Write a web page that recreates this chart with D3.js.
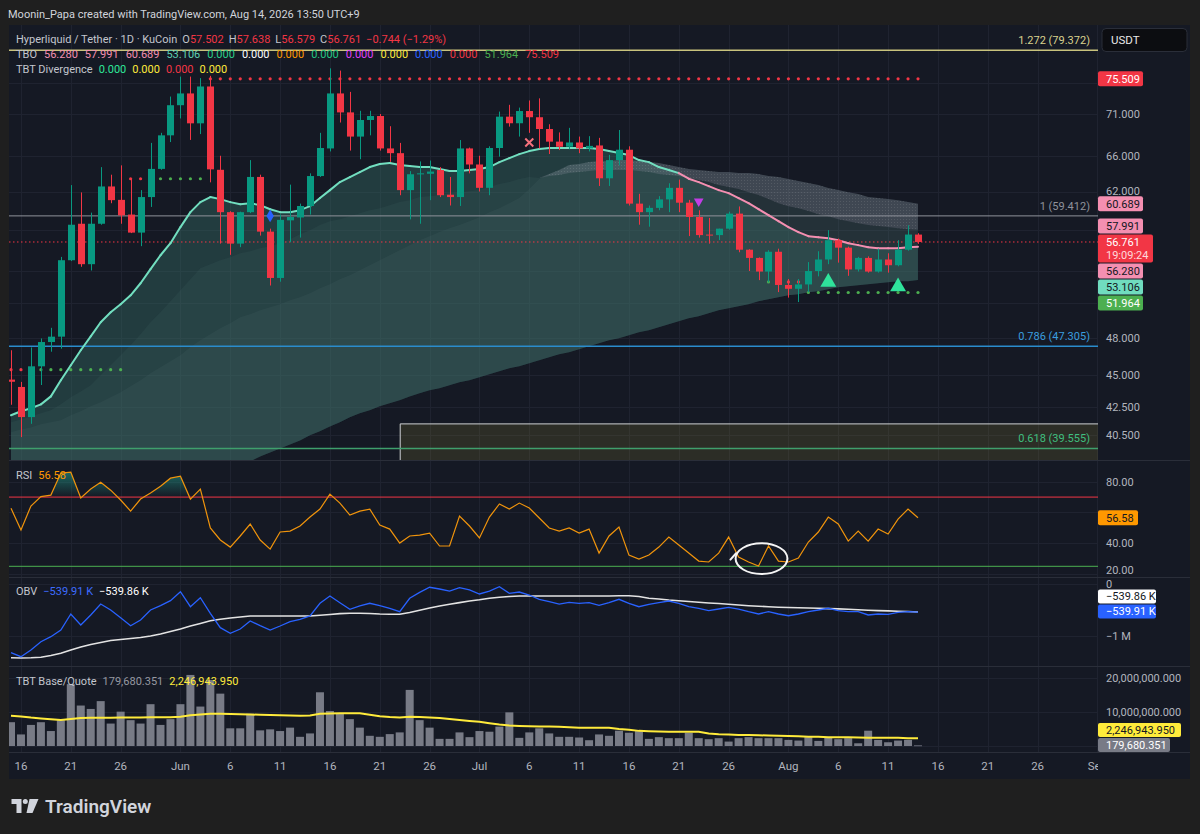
<!DOCTYPE html>
<html><head><meta charset="utf-8"><title>HYPE/USDT 1D</title>
<script src="https://cdn.jsdelivr.net/npm/d3@7/dist/d3.min.js"></script>
<style>
html,body{margin:0;padding:0;background:#1f1f1f;}
svg{display:block;}
text{font-family:Roboto,"Noto Sans","DejaVu Sans",sans-serif;}
</style></head><body>
<svg id="chart" width="1200" height="834"></svg>
<script>
// ---------------- DATA ----------------
const firstDay = "2026-05-15";
const opens = [44.62,44.05,41.79,45.67,47.65,48.10,54.98,58.60,54.60,58.60,
 62.55,61.10,59.55,57.70,61.40,64.50,68.40,72.10,73.60,69.85,
 74.50,64.40,59.80,56.60,59.80,63.60,57.80,53.30,58.95,59.25,
 60.45,63.70,66.85,73.60,71.20,68.25,70.26,70.75,66.85,66.30,
 62.15,63.90,63.95,64.37,61.65,61.40,66.85,65.00,62.40,66.90,
 70.67,69.86,71.37,70.60,69.16,67.65,67.05,67.55,66.85,67.20,
 63.45,65.50,66.70,60.70,59.80,60.25,61.15,62.40,60.80,59.30,
 57.50,57.45,58.10,59.65,56.00,55.20,53.90,55.80,52.65,52.30,
 52.70,53.95,55.05,56.94,56.20,54.10,55.20,53.90,55.05,54.50,
 56.00,57.502];
const highs = [46.97,44.44,47.20,47.95,48.85,55.30,62.70,61.90,59.75,64.70,
 63.85,64.90,63.40,62.15,67.50,68.70,73.20,75.80,75.80,75.60,
 75.90,66.00,59.90,59.85,65.50,63.85,58.10,59.55,62.75,60.70,
 64.00,68.70,76.90,76.60,73.80,71.40,71.40,71.00,69.50,67.50,
 64.25,65.35,65.45,64.70,63.60,67.84,66.95,66.00,67.10,71.30,
 72.15,71.80,72.70,72.97,69.74,68.75,69.30,68.25,68.30,68.10,
 66.10,69.04,67.10,61.75,60.50,61.50,62.90,63.30,61.10,60.00,
 59.20,58.10,59.85,60.40,56.05,55.25,55.95,56.10,53.20,53.20,
 54.80,55.85,57.95,57.10,56.30,55.30,55.35,56.10,55.65,56.94,
 58.45,57.638];
const lows = [42.70,40.35,41.30,44.20,46.85,47.10,54.90,54.35,54.00,58.50,
 60.74,58.60,57.65,56.35,60.35,64.40,67.60,70.45,67.85,68.55,
 63.00,56.60,55.50,56.25,59.70,57.40,52.60,52.95,56.75,57.20,
 59.55,63.60,66.50,69.95,66.60,65.60,68.40,66.60,65.30,61.60,
 59.05,58.60,61.07,61.40,60.50,60.45,64.00,62.00,61.60,65.90,
 69.45,68.25,68.70,66.85,66.20,66.66,66.75,66.30,66.50,62.60,
 62.60,64.90,60.50,58.50,58.30,60.00,59.80,59.80,57.35,57.20,
 56.60,56.95,58.00,55.75,53.95,53.10,52.90,52.00,51.50,51.10,
 52.00,53.45,54.60,54.75,53.50,53.90,53.80,53.80,53.80,54.40,
 55.90,56.579];
const closes = [44.45,41.79,45.67,47.65,48.10,54.98,58.50,54.60,58.60,62.55,
 61.07,59.47,57.70,61.40,64.50,68.40,72.10,73.60,69.85,74.50,
 64.45,59.80,56.60,59.80,63.60,57.80,53.30,59.00,59.30,60.45,
 63.70,66.90,73.60,71.20,68.25,70.26,70.75,66.85,66.30,62.15,
 63.90,64.00,64.20,61.60,61.40,66.85,65.00,62.40,66.90,70.67,
 69.86,71.37,70.60,69.16,67.65,67.05,67.55,66.85,67.15,63.45,
 65.50,66.70,60.70,59.80,60.25,61.15,62.40,60.80,59.30,57.45,
 57.45,58.10,59.65,56.00,55.20,53.90,55.80,52.65,52.30,52.70,
 53.95,55.05,56.94,56.20,54.10,55.20,53.90,55.05,54.50,56.00,
 57.505,56.761];

// TBO bands
const tboFast = [41.92,42.22,42.44,42.73,43.33,44.57,45.75,46.97,48.13,49.33,
 50.20,50.90,51.71,52.81,54.13,55.46,56.64,58.26,59.80,60.86,
 61.40,61.18,60.86,60.64,60.75,60.54,60.11,59.80,59.80,60.01,
 60.43,61.29,62.15,63.03,63.58,64.14,64.71,65.05,65.16,64.93,
 64.82,64.71,64.71,64.48,64.26,64.26,64.37,64.48,64.71,65.27,
 65.73,66.19,66.54,66.78,66.90,66.90,66.90,66.90,66.90,66.78,
 66.54,66.31,66.08,65.50,65.27,64.71,64.37,64.03,63.40,63.03,
 62.59,62.15,61.82,61.29,60.75,60.11,59.49,58.87,58.26,57.75,
 57.34,57.24,57.14,56.94,56.64,56.45,56.25,56.15,56.15,56.15,
 56.25,56.280];
const tboMid = [41.41,41.62,41.84,42.07,42.29,42.73,43.26,43.71,44.18,44.96,
 45.75,46.56,47.38,48.30,49.33,50.20,51.17,52.17,53.18,54.22,
 54.60,54.98,55.27,55.65,55.85,56.15,56.34,56.64,57.04,57.54,
 57.95,58.46,58.87,59.07,59.38,59.69,60.01,60.22,60.54,60.86,
 61.07,61.40,61.50,61.61,61.82,61.93,62.04,62.15,62.48,62.81,
 63.03,63.36,63.58,63.47,63.70,63.81,64.03,64.14,64.26,64.37,
 64.37,64.37,64.37,64.26,64.14,63.92,63.81,63.70,63.47,63.25,
 63.03,62.70,62.48,62.26,61.93,61.61,61.18,60.75,60.43,60.22,
 59.91,59.59,59.38,59.07,58.87,58.66,58.46,58.36,58.26,58.15,
 58.05,57.991];
const tboUpper = [40.69,40.90,41.04,41.26,41.41,41.55,41.92,42.22,42.58,42.88,
 43.26,43.64,44.10,44.57,45.11,45.59,46.07,46.56,47.22,47.80,
 48.30,48.81,49.24,49.76,50.02,50.37,50.64,50.90,51.26,51.53,
 51.89,52.35,52.72,53.18,53.56,54.03,54.50,54.98,55.46,55.95,
 56.45,56.94,57.34,57.75,58.15,58.46,58.87,59.28,59.80,60.22,
 60.75,61.29,62.26,63.36,63.92,64.37,64.93,65.05,65.27,65.38,
 65.38,65.50,65.50,65.38,65.27,65.16,64.93,64.71,64.48,64.37,
 64.26,64.14,64.14,64.03,64.03,63.92,63.70,63.58,63.36,63.14,
 62.92,62.70,62.37,62.15,61.93,61.72,61.40,61.29,61.18,61.07,
 60.86,60.689];
const tboSlow = [31.71,31.99,32.20,32.50,32.75,32.98,33.27,33.56,33.80,34.09,
 34.39,34.69,34.97,35.30,35.60,35.80,36.12,36.44,36.75,37.07,
 37.41,37.67,38.00,38.34,38.67,39.01,39.28,39.56,39.84,40.12,
 40.48,40.76,41.11,41.41,41.77,42.07,42.29,42.58,42.81,43.03,
 43.33,43.56,43.79,43.95,44.18,44.41,44.57,44.80,45.04,45.27,
 45.51,45.67,45.91,46.15,46.39,46.64,46.80,47.05,47.30,47.55,
 47.80,47.97,48.22,48.47,48.64,48.90,49.15,49.41,49.67,49.85,
 50.11,50.37,50.55,50.73,50.90,51.17,51.35,51.53,51.71,51.80,
 51.99,52.08,52.26,52.44,52.53,52.63,52.72,52.81,52.90,53.00,
 53.00,53.106];
const tboSignals = [0,0,0,0,0,0,0,0];
const divSignals = [0,0,0,0];

// support / resistance dotted levels
const levelPrices = [45.40, 45.40, 63.40, 63.40, 75.509, 52.93, 52.93, 51.964];
const levelFrom   = [0, 3, 12, 15, 20, 76, 78, 80];
const levelTo     = [1, 11, 13, 19, 91, 76, 79, 91];
const levelIsRes  = [1, 0, 1, 0, 1, 0, 1, 0];

// fibonacci levels
const fibRatios = ["1.272", "1", "0.786", "0.618"];
const fibPrices = [79.372, 59.412, 47.305, 39.555];
const zoneStartIdx = 39, zoneTop = 41.33;

// signal markers
const diamondIdx = 26, diamondPrice = 59.41;
const crossIdx = 52, crossPrice = 67.54;
const sellIdx = 69, sellPrice = 60.94;
const buyIdx = [82, 89], buyPrice = [52.90, 52.49];

// RSI
const rsi = [62.7,48.6,64.2,70.3,71.3,85.6,86.2,69.4,75.2,79.7,
 74.5,68.1,60.9,68.7,72.6,77.1,82.3,83.6,68.7,75.2,
 49.9,42.1,37.5,44.7,52.5,42.1,36.2,47.3,47.9,51.2,
 57.0,62.2,71.9,66.1,58.3,60.9,62.2,51.8,49.2,40.1,
 44.7,45.3,46.6,38.2,38.2,57.7,51.2,43.4,57.0,65.5,
 62.2,66.1,62.9,56.4,49.9,47.9,49.9,46.6,49.2,33.6,
 44.7,50.5,32.3,29.7,32.3,37.5,44.0,38.8,33.6,28.4,
 27.8,33.6,44.0,31.0,27.8,25.2,38.2,28.4,27.8,30.4,
 40.8,47.3,57.0,52.5,41.4,47.9,41.4,49.2,46.0,55.7,
 62.2,56.58];
const rsiUpper = 70, rsiLower = 25;
const rsiTicks = [80, 60, 40, 20];
const circleIdx = 75.3, circleRsi = 30.0, circleRxDays = 2.6, circleRyRsi = 10.0;

// OBV (thousands)
const obv = [-1321,-1398,-1269,-1110,-1013,-885,-577,-788,-596,-385,
 -500,-648,-802,-692,-500,-417,-321,-148,-437,-263,
 -563,-840,-948,-865,-712,-802,-885,-808,-725,-679,
 -615,-371,-231,-360,-487,-423,-371,-417,-467,-533,
 -275,-160,-63,-96,-135,-71,-115,-192,-135,-52,
 -179,-154,-212,-294,-340,-385,-352,-371,-360,-410,
 -360,-294,-371,-437,-390,-360,-327,-371,-437,-467,
 -513,-481,-448,-481,-533,-577,-533,-577,-610,-577,
 -533,-500,-467,-513,-533,-533,-596,-577,-583,-544,
 -533,-539.91];
const obvMa = [-1417,-1423,-1419,-1410,-1375,-1333,-1269,-1212,-1163,-1125,
 -1087,-1067,-1048,-1029,-1000,-962,-913,-865,-808,-760,
 -708,-679,-654,-635,-615,-615,-615,-615,-615,-615,
 -615,-602,-587,-569,-563,-563,-567,-577,-581,-583,
 -548,-504,-462,-423,-390,-358,-327,-304,-275,-254,
 -240,-231,-231,-231,-231,-231,-231,-231,-231,-231,
 -231,-227,-227,-240,-273,-288,-308,-323,-337,-352,
 -365,-375,-388,-404,-417,-427,-437,-446,-452,-458,
 -462,-467,-473,-479,-487,-496,-504,-512,-517,-523,
 -529,-539.86];
const obvTicks = [0, -1000];

// Base/Quote volume (millions)
const volume = [7.0,3.4,6.2,7.0,4.4,7.6,18.2,11.9,10.9,13.2,
 6.6,10.1,7.6,6.6,12.3,6.2,7.9,12.3,20.9,11.6,
 19.4,15.4,5.2,5.2,9.5,4.6,4.9,4.4,5.4,2.7,
 3.7,15.8,10.3,9.6,7.9,5.4,3.0,2.7,3.5,4.0,
 16.5,7.6,5.4,2.1,2.1,4.0,2.6,4.4,4.2,5.7,
 9.9,2.4,4.0,5.2,3.7,2.7,2.7,2.5,1.7,3.4,
 3.0,4.5,3.9,4.4,2.1,2.6,2.3,2.3,3.9,2.3,
 2.0,2.3,1.3,2.3,2.6,2.3,2.3,2.3,1.8,1.6,
 2.6,1.5,2.6,2.0,2.3,0.8,4.5,1.8,1.1,1.6,
 1.8,0.179680351];
const volumeMa = [8.9,8.7,8.35,8.1,7.9,7.65,7.95,8.2,8.3,8.3,
 8.3,8.35,8.4,8.4,8.45,8.45,8.45,8.6,9.05,9.25,
 9.45,9.45,9.4,9.35,9.25,9.2,9.1,9.05,8.95,8.9,
 9.0,9.45,9.55,9.6,9.6,9.6,9.2,8.75,8.5,8.35,
 8.6,8.5,8.35,8.2,7.95,7.65,7.35,7.1,6.7,6.3,
 6.05,5.9,5.8,5.75,5.7,5.65,5.55,5.4,5.4,5.4,
 5.4,5.0,4.75,4.45,4.35,4.25,4.2,4.2,4.2,4.2,
 3.7,3.45,3.35,3.25,3.2,3.15,3.1,3.05,2.95,2.85,
 2.75,2.7,2.6,2.6,2.55,2.5,2.45,2.45,2.4,2.4,
 2.3,2.246943950];
const volTicks = [20, 10];

const priceTicks = [75, 71, 66, 62, 58, 54, 51, 48, 45, 42.5, 40.5];
const axisEnd = "2026-09-01";
const countdown = "19:09:24";

// ---------------- DRAW ----------------
const FS = 11;
const C = {bg:"#151924", frame:"#1f1f1f", grid:"#1f2330", sep:"#2a2e39", txt:"#b2b5be", lbl:"#c3c6ce",
  up:"#089981", down:"#f23645", pink:"#f48fb1", mint:"#72dfc0", green:"#4caf50"};
const L = 9, R = 1098, RR = 1190, TOP = 25, BOT = 779;
const P = {main:[25,460], rsi:[461,577], obv:[578,666], vol:[667,752]};

const svg = d3.select("#chart");
svg.append("rect").attr("width",1200).attr("height",834).attr("fill",C.frame);
svg.append("rect").attr("x",L).attr("y",TOP).attr("width",RR-L).attr("height",BOT-TOP).attr("fill",C.bg);

const t0 = d3.utcParse("%Y-%m-%d")(firstDay);
const tEnd = d3.utcParse("%Y-%m-%d")(axisEnd);
const x = d3.scaleUtc().domain([t0, tEnd]).range([11, 1097.4]);
const dayW = x(d3.utcDay.offset(t0,1)) - x(t0);
const xi = i => x(t0) + i*dayW;
const y  = d3.scaleLog().domain([71,40.5]).range([114,435]);
const yR = d3.scaleLinear().domain([80,20]).range([481.7,574]);
const yO = d3.scaleLinear().domain([0,-1000]).range([584,636]);
const yV = d3.scaleLinear().domain([0,20]).range([746,678]);

const defs = svg.append("defs");
Object.entries(P).forEach(([k,[a,b]])=>{
  defs.append("clipPath").attr("id","clip-"+k).append("rect")
    .attr("x",L).attr("y",a).attr("width",R-L).attr("height",b-a);
});
defs.append("clipPath").attr("id","clip-xaxis").append("rect").attr("x",L).attr("y",752).attr("width",R-L).attr("height",27);
defs.append("clipPath").attr("id","clip-ob").append("rect").attr("x",L).attr("y",P.rsi[0]).attr("width",R-L).attr("height",yR(rsiUpper)-P.rsi[0]);
const pat = defs.append("pattern").attr("id","dots").attr("width",3).attr("height",3).attr("patternUnits","userSpaceOnUse");
pat.append("rect").attr("width",3).attr("height",3).attr("fill","rgba(140,145,158,0.30)");
pat.append("rect").attr("width",1).attr("height",1).attr("fill","rgba(255,255,255,0.10)");
const gr = defs.append("linearGradient").attr("id","obGrad").attr("gradientUnits","userSpaceOnUse")
  .attr("x1",0).attr("x2",0).attr("y1",yR(95)).attr("y2",yR(rsiUpper));
gr.append("stop").attr("offset",0).attr("stop-color","#22ab94").attr("stop-opacity",0.85);
gr.append("stop").attr("offset",1).attr("stop-color","#22ab94").attr("stop-opacity",0);

// grid
const xTicks = d3.utcDay.range(d3.utcDay.offset(t0,1), d3.utcDay.offset(tEnd,1))
  .filter(d=>[1,6,11,16,21,26].includes(d.getUTCDate()));
const grid = svg.append("g").attr("stroke",C.grid).attr("stroke-width",1);
xTicks.forEach(d=>{
  const xx = Math.round(x(d))+0.5;
  grid.append("line").attr("x1",xx).attr("x2",xx).attr("y1",TOP).attr("y2",752);
});
const hline = (yy)=>grid.append("line").attr("x1",L).attr("x2",R).attr("y1",Math.round(yy)+0.5).attr("y2",Math.round(yy)+0.5);
priceTicks.forEach(v=>hline(y(v)));
rsiTicks.forEach(v=>hline(yR(v)));
obvTicks.forEach(v=>hline(yO(v)));
volTicks.concat([0]).forEach(v=>hline(yV(v)));

// pane separators
[460.5, 577.5, 666.5, 752.5].forEach(yy=>svg.append("line").attr("x1",L).attr("x2",RR).attr("y1",yy).attr("y2",yy).attr("stroke",C.sep));

// ---------- main pane ----------
const gm = svg.append("g").attr("clip-path","url(#clip-main)");
const idx = d3.range(closes.length);
const band = (lo,hi)=>d3.area().x(i=>xi(i)).y0(i=>y(lo[i])).y1(i=>y(hi[i]))(idx);
gm.append("path").attr("d",band(tboSlow,tboFast)).attr("fill","rgba(56,112,106,0.40)");
gm.append("path").attr("d",band(tboSlow,tboUpper)).attr("fill","rgba(72,108,108,0.18)");
gm.append("path").attr("d",band(tboSlow,tboMid)).attr("fill","rgba(72,108,108,0.15)");
gm.append("path").attr("d",d3.area().x(i=>xi(i)).y0(i=>y(tboMid[i])).y1(i=>y(Math.max(tboMid[i],tboUpper[i])))(idx))
  .attr("fill","url(#dots)");

// zone rectangle
const zx = xi(zoneStartIdx), zy = y(zoneTop);
gm.append("rect").attr("x",zx).attr("y",zy).attr("width",R-zx+5).attr("height",80).attr("fill","rgba(150,140,50,0.18)");
gm.append("path").attr("d",`M${zx+0.5},${P.main[1]+5}V${zy+0.5}H${R+5}`).attr("fill","none").attr("stroke","#c9ccd3").attr("stroke-width",1);

// fib lines
const fibLine = ["#c9c37d","#8f929b","#2a8ccc","#3f9f6c"];
const fibText = ["#d9d28e","#8f929b","#3a9ddf","#3fbf7f"];
fibPrices.forEach((p,k)=>{
  const yy = y(p);
  gm.append("line").attr("x1",L).attr("x2",R).attr("y1",yy).attr("y2",yy).attr("stroke",fibLine[k]).attr("stroke-width",k===1?1:1.5);
  gm.append("text").attr("x",1090).attr("y",yy-10).attr("dy","0.35em").attr("text-anchor","end")
    .attr("font-size",FS).attr("fill",fibText[k]).text(`${fibRatios[k]} (${d3.format(".3f")(p)})`);
});

// current price line
const lastC = closes[closes.length-1];
gm.append("line").attr("x1",L).attr("x2",R).attr("y1",y(lastC)).attr("y2",y(lastC))
  .attr("stroke",C.down).attr("stroke-width",1).attr("stroke-dasharray","1.5,2.5");

// dotted levels
levelPrices.forEach((p,k)=>{
  d3.range(levelFrom[k], levelTo[k]+1).forEach(i=>{
    gm.append("circle").attr("cx",xi(i)).attr("cy",y(p)).attr("r",1.6)
      .attr("fill", levelIsRes[k] ? "#f23645" : "#4caf50");
  });
});

// fast line
for (let i=1;i<idx.length;i++){
  const bull = tboFast[i] >= tboMid[i];
  gm.append("line").attr("x1",xi(i-1)).attr("y1",y(tboFast[i-1])).attr("x2",xi(i)).attr("y2",y(tboFast[i]))
    .attr("stroke", bull ? C.mint : C.pink).attr("stroke-width",2).attr("stroke-linecap","round");
}

// candles
const cw = 7;
idx.forEach(i=>{
  const up = closes[i] >= opens[i];
  const col = up ? C.up : C.down;
  const xx = Math.round(xi(i));
  gm.append("line").attr("x1",xx+0.5).attr("x2",xx+0.5).attr("y1",y(highs[i])).attr("y2",y(lows[i])).attr("stroke",col).attr("stroke-width",1);
  const yt = y(Math.max(opens[i],closes[i])), yb = y(Math.min(opens[i],closes[i]));
  gm.append("rect").attr("x",xx+0.5-cw/2).attr("y",yt).attr("width",cw).attr("height",Math.max(1,yb-yt)).attr("fill",col);
});

// markers
gm.append("path").attr("d",d3.symbol(d3.symbolDiamond,48)()).attr("transform",`translate(${xi(diamondIdx)},${y(diamondPrice)})`).attr("fill","#2962ff");
{
  const cx = xi(crossIdx), cy = y(crossPrice);
  gm.append("path").attr("d",`M${cx-4},${cy-4}L${cx+4},${cy+4}M${cx+4},${cy-4}L${cx-4},${cy+4}`).attr("stroke","#f7717d").attr("stroke-width",2);
}
gm.append("path").attr("d",d3.symbol(d3.symbolTriangle,40)()).attr("transform",`translate(${xi(sellIdx)},${y(sellPrice)}) rotate(180)`).attr("fill","#c33de6");
buyIdx.forEach((bi,k)=>{
  gm.append("path").attr("d",d3.symbol(d3.symbolTriangle,110)()).attr("transform",`translate(${xi(bi)},${y(buyPrice[k])})`).attr("fill","#2fe39b");
});

// ---------- RSI pane ----------
const grs = svg.append("g").attr("clip-path","url(#clip-rsi)");
grs.append("line").attr("x1",L).attr("x2",R).attr("y1",yR(rsiUpper)).attr("y2",yR(rsiUpper)).attr("stroke","#f23645").attr("stroke-width",1);
grs.append("line").attr("x1",L).attr("x2",R).attr("y1",yR(rsiLower)).attr("y2",yR(rsiLower)).attr("stroke","#4caf50").attr("stroke-width",1);
grs.append("g").attr("clip-path","url(#clip-ob)").append("path")
  .attr("d",d3.area().x(i=>xi(i)).y0(yR(rsiUpper)).y1(i=>yR(rsi[i]))(idx)).attr("fill","url(#obGrad)");
grs.append("path").attr("d",d3.line().x(i=>xi(i)).y(i=>yR(rsi[i]))(idx)).attr("fill","none").attr("stroke","#f0940c").attr("stroke-width",1.2);
{
  const cx = x(t0) + circleIdx*dayW, cy = yR(circleRsi);
  const rx = circleRxDays*dayW, ry = Math.abs(yR(circleRsi+circleRyRsi)-cy);
  grs.append("ellipse").attr("cx",cx).attr("cy",cy).attr("rx",rx).attr("ry",ry).attr("fill","none").attr("stroke","#f5f5f5").attr("stroke-width",2);
  grs.append("line").attr("x1",cx-rx*1.2).attr("y1",cy+1).attr("x2",cx-rx*0.98).attr("y2",cy-ry*0.35).attr("stroke","#f5f5f5").attr("stroke-width",2).attr("stroke-linecap","round");
}

// ---------- OBV pane ----------
const go = svg.append("g").attr("clip-path","url(#clip-obv)");
go.append("path").attr("d",d3.line().x(i=>xi(i)).y(i=>yO(obvMa[i]))(idx)).attr("fill","none").attr("stroke","#e3e3e3").attr("stroke-width",1.6);
go.append("path").attr("d",d3.line().x(i=>xi(i)).y(i=>yO(obv[i]))(idx)).attr("fill","none").attr("stroke","#2962ff").attr("stroke-width",1.3);

// ---------- Volume pane ----------
const gv = svg.append("g").attr("clip-path","url(#clip-vol)");
idx.forEach(i=>{
  const yt = yV(volume[i]);
  gv.append("rect").attr("x",xi(i)-4).attr("y",yt).attr("width",8).attr("height",Math.max(0.8,yV(0)-yt)).attr("fill","#787b86");
});
gv.append("path").attr("d",d3.line().x(i=>xi(i)).y(i=>yV(volumeMa[i]))(idx)).attr("fill","none").attr("stroke","#ffeb3b").attr("stroke-width",2);

// ---------- X axis ----------
const gx = svg.append("g").attr("clip-path","url(#clip-xaxis)");
xTicks.forEach(d=>{
  gx.append("text").attr("x",x(d)).attr("y",766).attr("dy","0.35em").attr("text-anchor","middle")
    .attr("font-size",FS+0.5).attr("fill",C.txt)
    .text(d.getUTCDate()===1 ? d3.utcFormat("%b")(d) : d3.utcFormat("%-d")(d));
});

// ---------- Price axis labels & boxes ----------
const ax = svg.append("g");
function stackBoxes(items, anchorIdx){
  const out = items.map(d=>({...d}));
  const a = out[anchorIdx];
  a.top = a.y - 7.5;
  for (let k=anchorIdx+1;k<out.length;k++){ out[k].top = Math.max(out[k].y-7.5, out[k-1].top+out[k-1].h+1); }
  for (let k=anchorIdx-1;k>=0;k--){ out[k].top = Math.min(out[k].y-7.5, out[k+1].top-1-out[k].h); }
  return out;
}
const f3 = d3.format(".3f");
const last = a=>a[a.length-1];
const priceBoxes = [
  {y:y(last(tboUpper)), t:f3(last(tboUpper)), bg:C.pink, fg:"#131722", w:45, h:15},
  {y:y(last(tboMid)), t:f3(last(tboMid)), bg:C.pink, fg:"#131722", w:45, h:15},
  {y:y(lastC), t:f3(lastC), t2:countdown, bg:"#f23645", fg:"#ffffff", w:55, h:28, main:true},
  {y:y(last(tboFast)), t:f3(last(tboFast)), bg:C.pink, fg:"#131722", w:45, h:15},
  {y:y(last(tboSlow)), t:f3(last(tboSlow)), bg:"#70dcbf", fg:"#131722", w:45, h:15},
  {y:y(levelPrices[7]), t:f3(levelPrices[7]), bg:"#4caf50", fg:"#ffffff", w:45, h:15}
];
const fK = v=>d3.format(".2f")(v)+" K";
const fV = v=>d3.format(",.3f")(v*1e6);
const boxes = [{y:y(levelPrices[4]), top:y(levelPrices[4])-7.5, t:f3(levelPrices[4]), bg:"#f23645", fg:"#ffffff", w:45, h:15}]
  .concat(stackBoxes(priceBoxes, 2))
  .concat([{y:yR(last(rsi)), top:yR(last(rsi))-7.5, t:d3.format(".2f")(last(rsi)), bg:"#ff9800", fg:"#131722", w:40, h:15}])
  .concat(stackBoxes([
    {y:yO(last(obvMa)), t:fK(last(obvMa)), bg:"#ffffff", fg:"#131722", w:58, h:14},
    {y:yO(last(obv)), t:fK(last(obv)), bg:"#2962ff", fg:"#ffffff", w:58, h:14}],1))
  .concat(stackBoxes([
    {y:yV(last(volumeMa)), t:fV(last(volumeMa)), bg:"#ffeb3b", fg:"#131722", w:83, h:14},
    {y:yV(last(volume)), t:fV(last(volume)), bg:"#787b86", fg:"#ffffff", w:72, h:14}],1));

// tick labels: hidden where a value box sits on them, kept inside their own pane
const covered = yy => boxes.some(b => yy > b.top - 4 && yy < b.top + b.h + 4);
const axText = (yy, s, pane)=>{
  if (covered(yy)) return;
  const yc = Math.max(pane[0]+6.5, Math.min(pane[1]-6.5, yy));
  ax.append("text").attr("x",1106).attr("y",yc).attr("dy","0.35em").attr("font-size",FS).attr("fill",C.txt).text(s);
};
priceTicks.forEach(v=>axText(y(v), d3.format(".3f")(v), P.main));
rsiTicks.forEach(v=>axText(yR(v), d3.format(".2f")(v), P.rsi));
axText(yO(0), "0", P.obv);
axText(yO(-1000), "\u22121 M", P.obv);
volTicks.forEach(v=>axText(yV(v), d3.format(",.3f")(v*1e6), P.vol));

boxes.forEach(d=>{
  ax.append("rect").attr("x",R).attr("y",d.top).attr("width",d.w).attr("height",d.h).attr("rx",2).attr("fill",d.bg);
  ax.append("text").attr("x",1106).attr("y",d.main ? d.top+7.5 : d.top+d.h/2).attr("dy","0.35em").attr("font-size",FS).attr("fill",d.fg).text(d.t);
  if (d.t2) ax.append("text").attr("x",1106).attr("y",d.top+21).attr("dy","0.35em").attr("font-size",FS).attr("fill","#ffd9dc").text(d.t2);
});

// USDT box
ax.append("rect").attr("x",1102).attr("y",28.5).attr("width",85).attr("height",23).attr("rx",4).attr("fill","#0c0d11").attr("stroke","#2a2e39");
ax.append("text").attr("x",1111).attr("y",40).attr("dy","0.35em").attr("font-size",FS+0.5).attr("fill","#e8e8e8").text("USDT");

// ---------- legends ----------
function legendRow(xx, yy, parts){
  const t = svg.append("text").attr("x",xx).attr("y",yy).attr("dy","0.35em").attr("font-size",FS);
  parts.forEach(([s,c,dx])=>t.append("tspan").attr("fill",c).attr("dx",dx||0).text(s));
}
const n = closes.length-1;
const chg = closes[n]-closes[n-1];
const dcol = chg>=0 ? C.up : C.down;
legendRow(16, 39, [["Hyperliquid / Tether \u00b7 1D \u00b7 KuCoin", C.lbl],
  ["O",C.lbl,5],[f3(opens[n]),dcol],["H",C.lbl,5],[f3(highs[n]),dcol],["L",C.lbl,5],[f3(lows[n]),dcol],
  ["C",C.lbl,5],[f3(closes[n]),dcol],[`${d3.format(".3f")(chg)} (${d3.format(".2f")(chg/closes[n-1]*100)}%)`,dcol,5]]);
const sigCols = ["#2bd18c","#ffffff","#ff9800","#22c784","#e040fb","#ffeb3b","#2962ff","#f23645"];
legendRow(16, 54, [["TBO",C.lbl],[f3(last(tboFast)),C.pink,7],[f3(last(tboMid)),C.pink,7],[f3(last(tboUpper)),C.pink,7],
  [f3(last(tboSlow)),"#5fd0b3",7]].concat(tboSignals.map((v,k)=>[f3(v),sigCols[k],7]))
  .concat([[f3(levelPrices[7]),"#4caf50",7],[f3(levelPrices[4]),"#f23645",7]]));
const divCols = ["#2ee89a","#ffeb3b","#f23645","#ffeb3b"];
legendRow(16, 69, [["TBT Divergence",C.lbl]].concat(divSignals.map((v,k)=>[f3(v),divCols[k],6])));
legendRow(16, 475, [["RSI",C.lbl],[d3.format(".2f")(last(rsi)),"#ff9800",6]]);
legendRow(16, 591, [["OBV",C.lbl],[fK(last(obv)),"#3d6cff",6],[fK(last(obvMa)),"#ffffff",6]]);
legendRow(16, 681, [["TBT Base/Quote",C.lbl],[fV(last(volume)),"#9598a1",6],[fV(last(volumeMa)),"#ffeb3b",6]]);

// top caption
svg.append("text").attr("x",8).attr("y",14).attr("dy","0.35em").attr("font-size",FS).attr("fill","#d1d4dc")
  .text("Moonin_Papa created with TradingView.com, Aug 14, 2026 13:50 UTC+9");

// footer logo
const lg = svg.append("g").attr("fill","#d1d4dc");
lg.append("path").attr("d","M11.5,799H21.5V813H16.5V804H11.5Z");
lg.append("circle").attr("cx",25.3).attr("cy",801.6).attr("r",2.5);
lg.append("path").attr("d","M29.5,799H38.5L32.5,813H26.5Z");
svg.append("text").attr("x",45).attr("y",806).attr("dy","0.35em").attr("font-size",19).attr("font-weight",600)
  .attr("fill","#d1d4dc").text("TradingView");
</script></body></html>
